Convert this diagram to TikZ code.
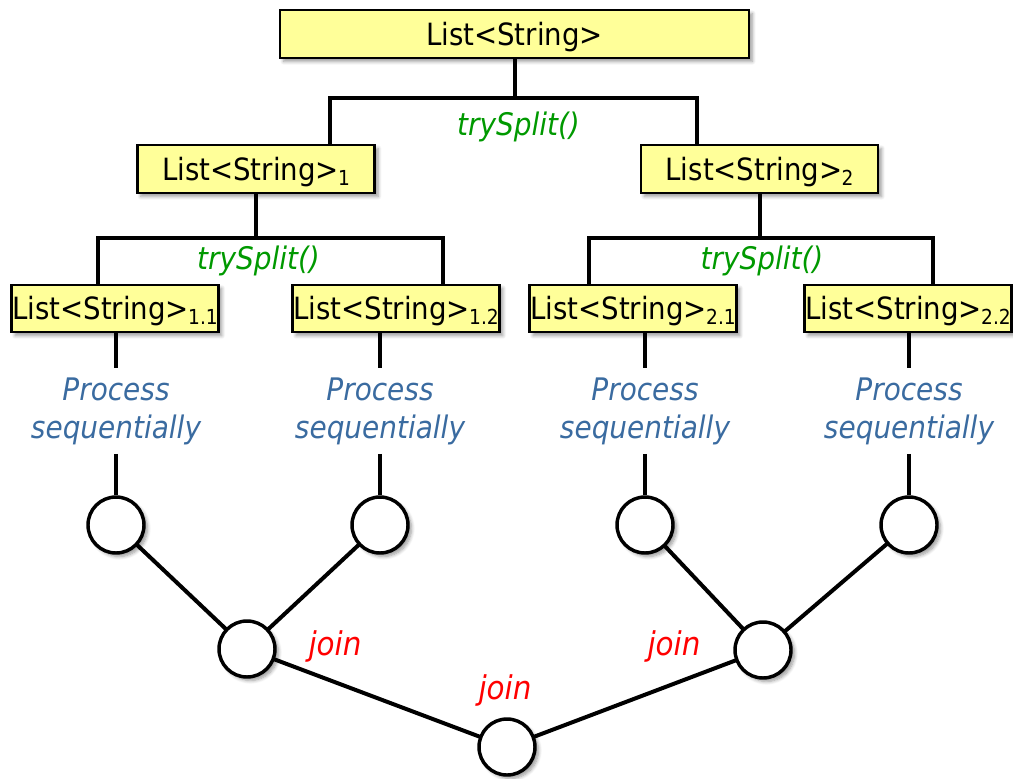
\documentclass[tikz,border=0pt]{standalone}
\usepackage{fontspec}
\setmainfont{DejaVu Sans Condensed}
\usetikzlibrary{shadows.blur}

\definecolor{boxfill}{HTML}{FFFF99}
\definecolor{splitgreen}{HTML}{009900}
\definecolor{seqblue}{HTML}{3A6BA0}
\definecolor{joinred}{HTML}{FF0000}

% subscript index after a list name
\newcommand{\idx}[1]{\kern-0.6pt\raisebox{-3.9pt}{\fontsize{15.5}{16}\selectfont #1}}

\tikzset{
  softshadow/.style={blur shadow={shadow xshift=2.6pt, shadow yshift=-2.6pt,
      shadow blur radius=2.6pt, shadow blur steps=6, shadow opacity=40}},
  listbox/.style={draw=black, line width=1.9pt, fill=boxfill, inner sep=0pt,
      text height=16.8pt, text depth=0pt,
      font=\fontsize{23}{26}\selectfont, softshadow},
  topbox/.style={listbox, minimum width=351.5pt, minimum height=36pt},
  midbox/.style={listbox, minimum width=178pt, minimum height=36pt},
  leafbox/.style={listbox, minimum width=155pt, minimum height=35.5pt},
  task/.style={circle, draw=black, line width=2.6pt, fill=white, inner sep=0pt,
      minimum size=42pt, softshadow},
  conn/.style={draw=black, line width=3pt},
  splitlbl/.style={text=splitgreen, font=\fontsize{23.3}{26}\selectfont\itshape, inner sep=0pt},
  seqlbl/.style={text=seqblue, font=\fontsize{23.3}{28.5}\selectfont\itshape, align=center,
      inner sep=0pt, minimum height=63.75pt},
  joinlbl/.style={text=joinred, font=\fontsize{24.5}{26}\selectfont\itshape, inner sep=0pt},
}

\begin{document}
\begin{tikzpicture}[x=0.75pt, y=-0.75pt]
  \useasboundingbox (0,0) rectangle (1013,778);

  % list boxes
  \node[topbox]  (top) at (514.5,34)  {List<String>};
  \node[midbox]  (l1)  at (256,169)   {List<String>\idx{1}};
  \node[midbox]  (l2)  at (759.5,169) {List<String>\idx{2}};
  \node[leafbox] (l11) at (115,308.5) {List<String>\idx{1.1}};
  \node[leafbox] (l12) at (396,308.5) {List<String>\idx{1.2}};
  \node[leafbox] (l21) at (633,308.5) {List<String>\idx{2.1}};
  \node[leafbox] (l22) at (908,308.5) {List<String>\idx{2.2}};

  % split labels
  \node[splitlbl] (t0) at (518.5,127) {trySplit()};
  \node[splitlbl] (t1) at (258.5,261) {trySplit()};
  \node[splitlbl] (t2) at (762,261)   {trySplit()};

  % split connectors
  \draw[conn] (top.south) -- (top.south |- 0,98);
  \draw[conn] (l1.north -| 330,0) |- (697,98) -- (l2.north -| 697,0);
  \draw[conn] (l1.south) -- (l1.south |- 0,238);
  \draw[conn] (l11.north -| 98,0) |- (443,238) -- (l12.north -| 443,0);
  \draw[conn] (l2.south) -- (l2.south |- 0,238);
  \draw[conn] (l21.north -| 589,0) |- (933,238) -- (l22.north -| 933,0);

  % sequential processing labels
  \node[seqlbl] (p1) at (116,411) {Process\\sequentially};
  \node[seqlbl] (p2) at (380,411) {Process\\sequentially};
  \node[seqlbl] (p3) at (645,411) {Process\\sequentially};
  \node[seqlbl] (p4) at (909,411) {Process\\sequentially};

  % join tree connectors
  \coordinate (c1pos) at (116,525);
  \coordinate (c2pos) at (380,525);
  \coordinate (c3pos) at (645,525);
  \coordinate (c4pos) at (909,525);
  \coordinate (j1pos) at (247,649);
  \coordinate (j2pos) at (763,650);
  \coordinate (rpos)  at (507,747);
  \draw[conn] (c1pos) -- (j1pos) -- (c2pos);
  \draw[conn] (c3pos) -- (j2pos) -- (c4pos);
  \draw[conn] (j1pos) -- (rpos) -- (j2pos);

  % task circles
  \node[task] (c1) at (c1pos) {};
  \node[task] (c2) at (c2pos) {};
  \node[task] (c3) at (c3pos) {};
  \node[task] (c4) at (c4pos) {};
  \node[task] (j1) at (j1pos) {};
  \node[task] (j2) at (j2pos) {};
  \node[task] (r)  at (rpos)  {};

  % leaf box to task circle, through the label
  \draw[conn] (l11.south -| p1) -- (p1.north);
  \draw[conn] (p1.south) -- (c1.north);
  \draw[conn] (l12.south -| p2) -- (p2.north);
  \draw[conn] (p2.south) -- (c2.north);
  \draw[conn] (l21.south -| p3) -- (p3.north);
  \draw[conn] (p3.south) -- (c3.north);
  \draw[conn] (l22.south -| p4) -- (p4.north);
  \draw[conn] (p4.south) -- (c4.north);

  % join labels
  \node[joinlbl] (jl1) at (335,646) {join};
  \node[joinlbl] (jl2) at (674,646) {join};
  \node[joinlbl] (jl0) at (505,690) {join};
\end{tikzpicture}
\end{document}
